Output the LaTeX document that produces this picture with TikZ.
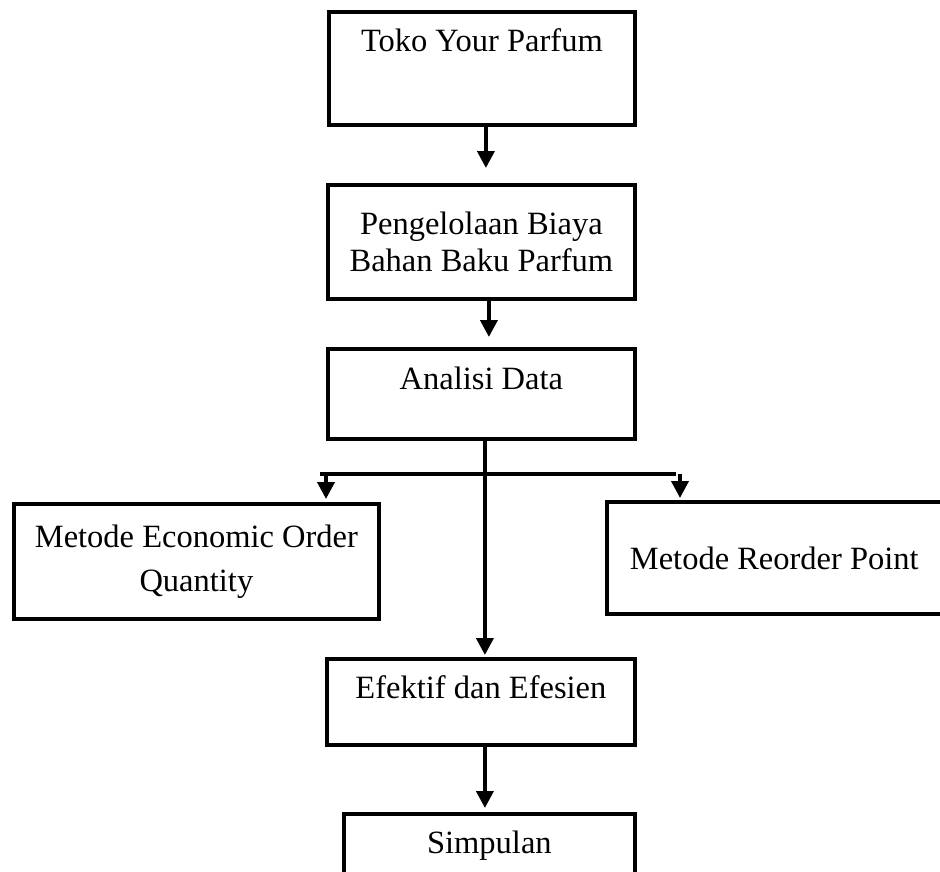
\documentclass[tikz,border=0pt]{standalone}
\usepackage{fontspec}
\setmainfont{Liberation Serif}
\usetikzlibrary{arrows.meta}
\begin{document}
\begin{tikzpicture}[x=1pt,y=-1pt,
  box/.style={draw, line width=3.8pt, inner sep=0pt, anchor=north west,
    font=\fontsize{32.5}{37}\selectfont},
  arr/.style={line width=3.8pt, -{Triangle[width=17pt,length=17pt]}},
  ln/.style={line width=3.8pt}]
\useasboundingbox (0,0) rectangle (940,871);
\clip (0,0) rectangle (940,871);
\node[box, minimum width=306pt, minimum height=113pt, text height=40pt, text depth=73pt] (b1) at (327,10) {Toko Your Parfum};
\node[box, minimum width=307pt, minimum height=114pt, align=center] (b2) at (326,183) {Pengelolaan Biaya\\Bahan Baku Parfum};
\node[box, minimum width=307pt, minimum height=90pt, text height=41pt, text depth=49pt] (b3) at (326,347) {Analisi Data};
\node[box, minimum width=365pt, minimum height=115pt, align=center, font=\fontsize{32.5}{44}\selectfont] (eoq) at (12,502) {Metode Economic Order\\Quantity};
\node[box, minimum height=112pt, text width=294pt, align=flush left, inner xsep=23pt] (rop) at (605,500) {Metode Reorder Point};
\node[box, minimum width=308pt, minimum height=86pt, text height=40pt, text depth=46pt] (eff) at (325,657) {Efektif dan Efesien};
\node[box, minimum width=291pt, minimum height=90pt, text height=40pt, text depth=50pt] (simp) at (342,812) {Simpulan};
\draw[arr, shorten >=15pt] ([xshift=4pt]b1.south) -- ([xshift=4pt]b1.south |- b2.north);
\draw[arr, shorten >=10pt] ([xshift=7.5pt]b2.south) -- ([xshift=7.5pt]b2.south |- b3.north);
\draw[arr, shorten >=2pt] ([xshift=3.5pt]b3.south) -- ([xshift=3.5pt]b3.south |- eff.north);
\draw[arr, shorten >=4pt] ([xshift=4pt]eff.south) -- ([xshift=4pt]eff.south |- simp.north);
\coordinate (hl) at (320,474);
\coordinate (hr) at (676,474);
\draw[ln] (hl) -- (hr);
\coordinate (dl) at (326,474);
\coordinate (dr) at (680,474);
\draw[arr, shorten >=3pt] (dl) -- (dl |- eoq.north);
\draw[arr, shorten >=2pt] (dr) -- (dr |- rop.north);
\end{tikzpicture}
\end{document}
